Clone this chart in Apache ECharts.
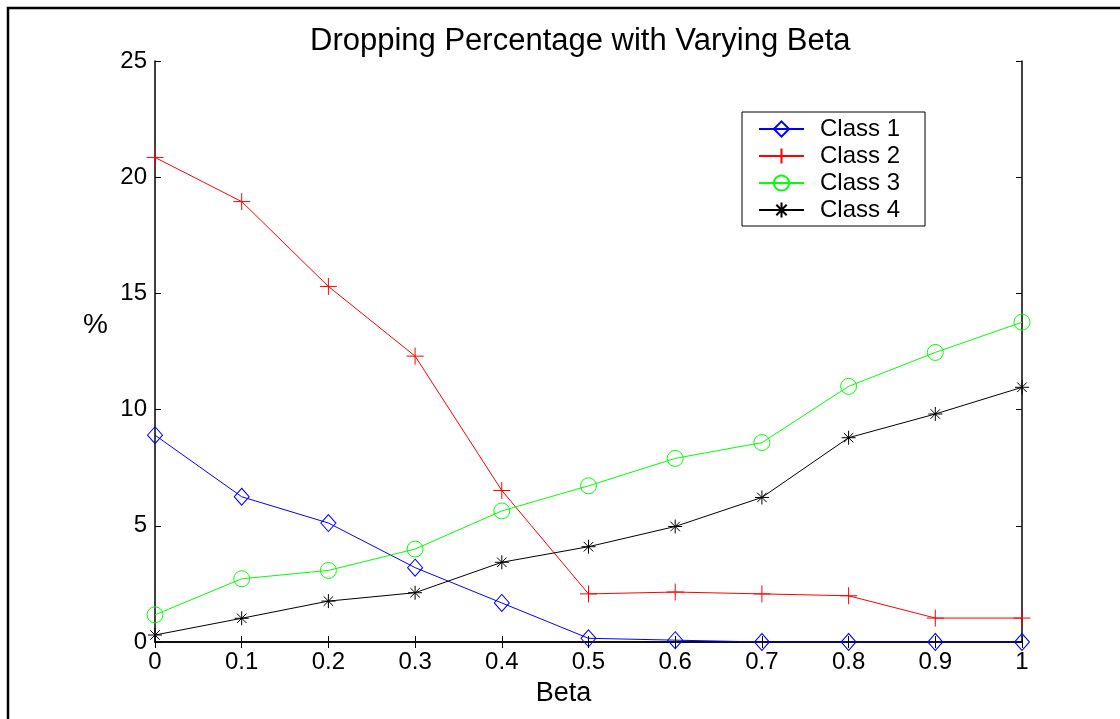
<!DOCTYPE html>
<html>
<head>
<meta charset="utf-8">
<script src="https://cdn.jsdelivr.net/npm/echarts@6/dist/echarts.min.js"></script>
<style>
  html, body { margin: 0; padding: 0; background: #fff; }
  #chart { width: 1120px; height: 719px; }
</style>
</head>
<body>
<div id="chart"></div>
<script>
// Beta values along the x axis
const betaLabels = ['0', '0.1', '0.2', '0.3', '0.4', '0.5', '0.6', '0.7', '0.8', '0.9', '1'];
// Dropping percentage (%) per traffic class
const class1 = [8.9, 6.25, 5.12, 3.2, 1.68, 0.16, 0.08, 0, 0, 0, 0];
const class2 = [20.85, 18.95, 15.3, 12.3, 6.52, 2.07, 2.15, 2.07, 1.99, 1.03, 1.03];
const class3 = [1.17, 2.72, 3.08, 4.0, 5.64, 6.72, 7.9, 8.58, 11.0, 12.46, 13.76];
const class4 = [0.3, 1.02, 1.76, 2.12, 3.43, 4.1, 4.97, 6.22, 8.79, 9.81, 10.96];
const seriesNames = ['Class 1', 'Class 2', 'Class 3', 'Class 4'];
const yTicks = { min: 0, max: 25, interval: 5 };

const FONT = '"Liberation Sans", Arial, Helvetica, sans-serif';
const PLUS = 'path://M0,5L10,5M5,0L5,10';
const STAR = 'path://M5,0L5,10M0,5L10,5M1.6,1.6L8.4,8.4M1.6,8.4L8.4,1.6';

function lineSeries(name, data, color, symbol, size) {
  return {
    name: name,
    type: 'line',
    data: data,
    xAxisIndex: 0,
    yAxisIndex: 0,
    symbol: symbol,
    symbolSize: size,
    showAllSymbol: true,
    lineStyle: { color: color, width: 1 },
    itemStyle: { color: 'rgba(0,0,0,0)', borderColor: color, borderWidth: 1 },
    emphasis: { disabled: true },
    animation: false
  };
}

const tickCommon = {
  axisLine: { show: true, lineStyle: { color: '#000', width: 1.5 } },
  axisTick: { show: true, inside: true, length: 6, lineStyle: { color: '#000', width: 1 } },
  splitLine: { show: false }
};

const chart = echarts.init(document.getElementById('chart'), null, { renderer: 'canvas' });
chart.setOption({
  backgroundColor: '#fff',
  animation: false,
  title: {
    text: 'Dropping Percentage with Varying Beta',
    left: 310,
    top: 26,
    padding: 0,
    textStyle: { fontFamily: FONT, fontSize: 31, fontWeight: 'normal', color: '#000' }
  },
  grid: { left: 155, right: 98, top: 61, bottom: 77, containLabel: false },
  legend: {
    orient: 'vertical',
    left: 742,
    top: 112,
    data: seriesNames,
    itemWidth: 45,
    itemHeight: 19,
    itemGap: 3,
    padding: [5, 25, 4, 16],
    borderColor: '#000',
    borderWidth: 1,
    backgroundColor: '#fff',
    selectedMode: false,
    textStyle: { fontFamily: FONT, fontSize: 24, color: '#000', padding: [0, 0, 0, 11] }
  },
  xAxis: [
    Object.assign({
      type: 'category',
      position: 'bottom',
      data: betaLabels,
      boundaryGap: false,
      name: 'Beta',
      nameLocation: 'middle',
      nameGap: 38,
      nameTextStyle: { fontFamily: FONT, fontSize: 27, color: '#000', padding: [0, 50, 0, 0] },
      axisLabel: { fontFamily: FONT, fontSize: 24, color: '#000', margin: 8, interval: 0 }
    }, tickCommon),
    Object.assign({
      type: 'category',
      position: 'top',
      data: betaLabels,
      boundaryGap: false,
      axisLabel: { show: false }
    }, tickCommon)
  ],
  yAxis: [
    Object.assign({
      type: 'value',
      position: 'left',
      min: yTicks.min,
      max: yTicks.max,
      interval: yTicks.interval,
      name: '%',
      nameLocation: 'middle',
      nameRotate: 0,
      nameGap: 47,
      nameTextStyle: { fontFamily: FONT, fontSize: 28, color: '#000', verticalAlign: 'bottom', lineHeight: 53 },
      axisLabel: { fontFamily: FONT, fontSize: 24, color: '#000', margin: 8 }
    }, tickCommon),
    Object.assign({
      type: 'value',
      position: 'right',
      min: yTicks.min,
      max: yTicks.max,
      interval: yTicks.interval,
      axisLabel: { show: false }
    }, tickCommon)
  ],
  series: [
    lineSeries(seriesNames[0], class1, '#0000ff', 'diamond', [15, 17]),
    lineSeries(seriesNames[1], class2, '#ff0000', PLUS, 17),
    lineSeries(seriesNames[2], class3, '#00ff00', 'circle', 16),
    lineSeries(seriesNames[3], class4, '#000000', STAR, 14)
  ],
  graphic: [{
    type: 'rect',
    silent: true,
    z: -10,
    shape: { x: 8, y: 8, width: 1300, height: 900 },
    style: { fill: 'none', stroke: '#000', lineWidth: 2.5 }
  }]
});
</script>
</body>
</html>
